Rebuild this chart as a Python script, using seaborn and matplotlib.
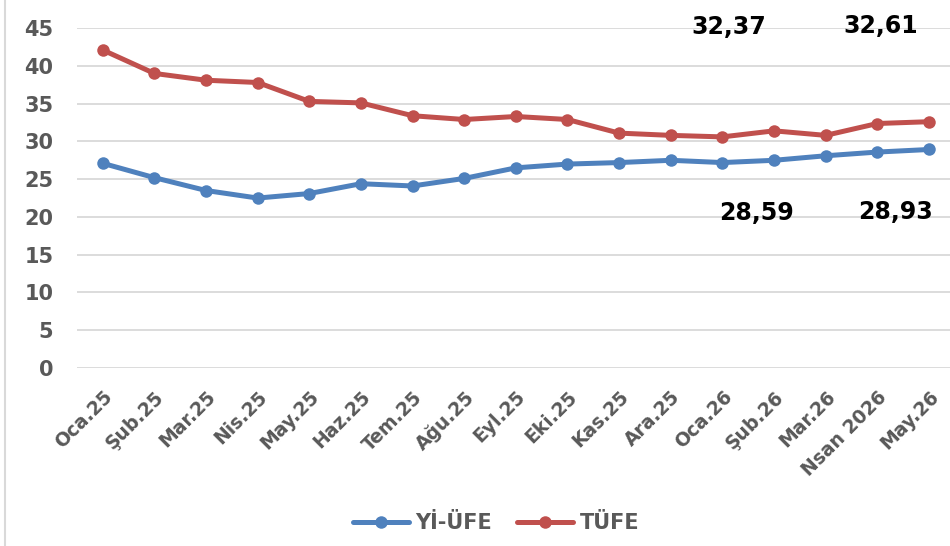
import matplotlib
matplotlib.use("Agg")
import matplotlib.pyplot as plt
from matplotlib.lines import Line2D
import pandas as pd
import seaborn as sns

# dati
mesi = ["Oca.25", "Şub.25", "Mar.25", "Nis.25", "May.25", "Haz.25", "Tem.25",
        "Ağu.25", "Eyl.25", "Eki.25", "Kas.25", "Ara.25", "Oca.26", "Şub.26",
        "Mar.26", "Nsan 2026", "May.26"]
yi_ufe = [27.1, 25.2, 23.5, 22.5, 23.1, 24.4, 24.1, 25.1, 26.5, 27.0, 27.2,
          27.5, 27.2, 27.5, 28.1, 28.59, 28.93]
tufe = [42.1, 39.0, 38.1, 37.8, 35.3, 35.1, 33.4, 32.9, 33.3, 32.9, 31.1,
        30.8, 30.6, 31.4, 30.8, 32.37, 32.61]

serie = ["Yİ-ÜFE", "TÜFE"]
colori = ["#4F81BD", "#C0504D"]
grigio = "#595959"

df = pd.DataFrame({
    "mese": mesi * 2,
    "valore": yi_ufe + tufe,
    "serie": [serie[0]] * len(mesi) + [serie[1]] * len(mesi),
})

sns.set_style("white")
plt.rcParams["font.family"] = ["DejaVu Sans"]

fig = plt.figure(figsize=(9.5, 5.46), dpi=100)
ax = fig.add_axes([0.081, 0.326, 0.924, 0.6225])

sns.lineplot(data=df, x="mese", y="valore", hue="serie", palette=colori,
             marker="o", markersize=9, markeredgewidth=0, linewidth=3.6,
             sort=False, ax=ax, legend=False)

ax.set_xlim(-0.5, 16.5)
ax.set_ylim(0, 45)
ax.set_yticks(range(0, 46, 5))
ax.yaxis.grid(True, color="#d9d9d9", linewidth=1.3)
ax.set_axisbelow(True)
for s in ax.spines.values():
    s.set_visible(False)
ax.set_xlabel("")
ax.set_ylabel("")
ax.tick_params(axis="y", length=0, pad=17, labelsize=15, labelcolor=grigio)
ax.tick_params(axis="x", length=0, pad=14, labelsize=13.5, labelcolor=grigio)
for t in ax.get_yticklabels():
    t.set_fontweight("bold")
ax.set_xticks(range(len(mesi)))
ax.set_xticklabels(mesi, rotation=45, ha="right", rotation_mode="anchor",
                   fontweight="bold")

# etichette dei valori finali (spostate come nell'originale)
etichette = [
    (15, tufe[15], (-149, 97)),
    (16, tufe[16], (-48, 96)),
    (15, yi_ufe[15], (-121, -61)),
    (16, yi_ufe[16], (-33, -63)),
]
for xi, val, off in etichette:
    ax.annotate(f"{val:.2f}".replace(".", ","), xy=(xi, val), xytext=off,
                textcoords="offset pixels", ha="center", va="center",
                fontsize=17, fontweight="bold", color="black")

maniglie = [Line2D([0], [0], color=c, linewidth=3.6, marker="o", markersize=9,
                   markeredgewidth=0) for c in colori]
leg = fig.legend(maniglie, serie, loc="center", bbox_to_anchor=(0.522, 0.042),
                 ncol=2, frameon=False, handlelength=2.7, columnspacing=1.2,
                 handletextpad=0.3, prop={"weight": "bold", "size": 15})
for t in leg.get_texts():
    t.set_color(grigio)

# bordo sinistro dell'area del grafico
fig.add_artist(Line2D([0.0055, 0.0055], [0, 1], color="#d9d9d9", linewidth=1.5))

fig.savefig("out.png", dpi=100)
